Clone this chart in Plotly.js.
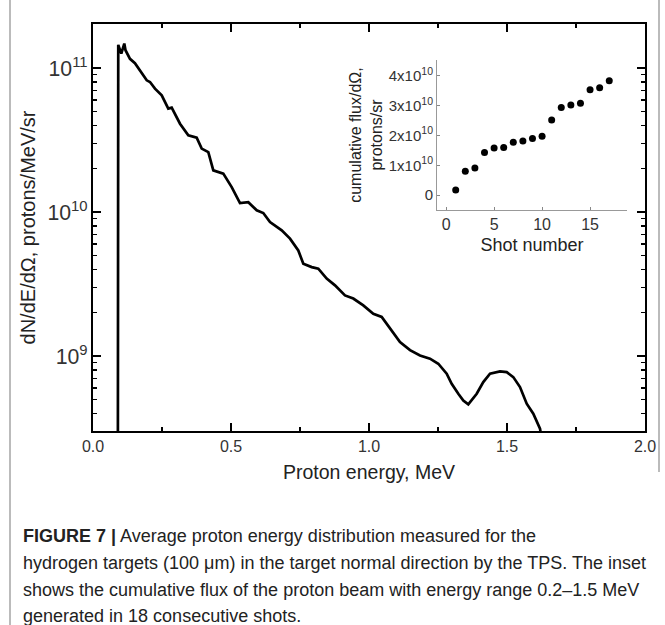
<!DOCTYPE html>
<html>
<head>
<meta charset="utf-8">
<script src="https://cdn.plot.ly/plotly-3.0.1.min.js"></script>
<style>
html,body{margin:0;padding:0;background:#fff;}
#chart{width:665px;height:625px;}
</style>
</head>
<body>
<div id="chart"></div>
<script>
// Main spectrum: proton energy (MeV) vs dN/dE/dOmega (protons/MeV/sr)
var energy = [0.0895, 0.0905, 0.0915, 0.1025, 0.1134, 0.1178, 0.134, 0.152, 0.170, 0.1946,
  0.2065, 0.2246, 0.249, 0.2728, 0.2851, 0.3152, 0.3453, 0.3757, 0.3938, 0.4178,
  0.4359, 0.454, 0.4721, 0.5025, 0.5326, 0.5627, 0.5931, 0.617, 0.6413, 0.6837,
  0.7138, 0.7438, 0.762, 0.7924, 0.8163, 0.8467, 0.8768, 0.913, 0.9431, 0.9793,
  1.0156, 1.046, 1.0822, 1.1123, 1.1486, 1.1848, 1.221, 1.2511, 1.2815, 1.2996,
  1.3236, 1.3417, 1.3598, 1.3902, 1.4141, 1.4384, 1.4746, 1.4989, 1.5228, 1.5471,
  1.5714, 1.5953, 1.6196, 1.63];
var flux = [1e7, 3.5e10, 1.45e11, 1.26e11, 1.48e11, 1.33e11, 1.16e11, 1.08e11, 9.64e10, 8.22e10,
  8.0e10, 7.2e10, 6.46e10, 5.23e10, 5.31e10, 4.11e10, 3.41e10, 3.29e10, 2.76e10, 2.61e10,
  1.95e10, 1.90e10, 1.85e10, 1.49e10, 1.155e10, 1.17e10, 1.03e10, 9.85e9, 8.53e9, 7.47e9,
  6.54e9, 5.42e9, 4.38e9, 4.15e9, 4.05e9, 3.45e9, 3.10e9, 2.64e9, 2.51e9, 2.25e9,
  1.97e9, 1.87e9, 1.51e9, 1.25e9, 1.10e9, 1.01e9, 9.6e8, 8.85e8, 7.55e8, 6.43e8,
  5.48e8, 4.92e8, 4.62e8, 5.48e8, 6.6e8, 7.55e8, 7.83e8, 7.74e8, 7.15e8, 6.1e8,
  4.67e8, 3.98e8, 3.13e8, 2.4e8];

// Inset: cumulative flux per shot
var shots = [1, 2, 3, 4, 5, 6, 7, 8, 9, 10, 11, 12, 13, 14, 15, 16, 17];
var cumFlux = [0.17e10, 0.80e10, 0.91e10, 1.43e10, 1.58e10, 1.60e10, 1.77e10, 1.81e10, 1.90e10, 1.97e10,
  2.52e10, 2.94e10, 3.02e10, 3.08e10, 3.53e10, 3.60e10, 3.83e10];

var insetTickVals = [0, 1e10, 2e10, 3e10, 4e10];
var insetTickText = ['0', '1x10<sup>10</sup>', '2x10<sup>10</sup>', '3x10<sup>10</sup>', '4x10<sup>10</sup>'];

var captionLines = [
  '<b>FIGURE 7 |</b> Average proton energy distribution measured for the',
  'hydrogen targets (100 μm) in the target normal direction by the TPS. The inset',
  'shows the cumulative flux of the proton beam with energy range 0.2–1.5 MeV',
  'generated in 18 consecutive shots.'
];

var FONT = 'Liberation Sans, Arial, sans-serif';
var CAPFONT = 'Liberation Sans, Arial, sans-serif';

var traces = [
  {x: energy, y: flux, type: 'scatter', mode: 'lines',
   line: {color: '#000', width: 2.7}, xaxis: 'x', yaxis: 'y', hoverinfo: 'skip'},
  {x: shots, y: cumFlux, type: 'scatter', mode: 'markers',
   marker: {color: '#000', size: 7}, xaxis: 'x2', yaxis: 'y2', hoverinfo: 'skip'}
];

// pixel geometry helpers (plot area 93..645 x 24..431)
function px(x){ return (x - 93) / 552; }
function py(y){ return (431 - y) / 407; }

var annotations = captionLines.map(function(t, i){
  var ys = [536, 563, 590, 616];
  return {text: t, xref: 'paper', yref: 'paper', x: px(21), y: py(ys[i]),
    xanchor: 'left', yanchor: 'middle', showarrow: false,
    font: {family: CAPFONT, size: 18, color: '#222'}};
});

var layout = {
  width: 665, height: 625,
  margin: {l: 93, r: 20, t: 24, b: 194},
  paper_bgcolor: '#fff', plot_bgcolor: '#fff',
  showlegend: false,
  font: {family: FONT, color: '#333'},
  xaxis: {
    range: [0, 2], dtick: 0.5, tick0: 0, tickformat: '.1f',
    ticks: 'inside', ticklen: 8, tickwidth: 1.5, tickcolor: '#000',
    minor: {dtick: 0.25, ticks: 'inside', ticklen: 4, tickcolor: '#000', tickwidth: 1.5, showgrid: false},
    showline: true, linecolor: '#000', linewidth: 2, mirror: 'ticks',
    showgrid: false, zeroline: false,
    tickfont: {family: FONT, size: 16, color: '#333'},
    title: {text: 'Proton energy, MeV', font: {family: FONT, size: 19.5, color: '#222'}, standoff: 11}
  },
  yaxis: {
    type: 'log', range: [8.48, 11.306], dtick: 1, exponentformat: 'power',
    ticks: 'inside', ticklen: 8, tickwidth: 1.5, tickcolor: '#000',
    minor: {dtick: 'D1', ticks: 'inside', ticklen: 4, tickcolor: '#000', tickwidth: 1.2, showgrid: false},
    showline: true, linecolor: '#000', linewidth: 2, mirror: 'ticks',
    showgrid: false, zeroline: false,
    tickfont: {family: FONT, size: 17, color: '#333'},
    title: {text: 'dN/dE/dΩ, protons/MeV/sr', font: {family: FONT, size: 20, color: '#222'}, standoff: 6}
  },
  xaxis2: {
    domain: [px(437), px(627)], anchor: 'y2',
    range: [-0.95, 18.85], tickvals: [0, 5, 10, 15],
    ticks: 'inside', ticklen: 3, tickcolor: '#888',
    showline: true, linecolor: '#999', linewidth: 1, mirror: false,
    showgrid: false, zeroline: false,
    tickfont: {family: FONT, size: 16, color: '#333'},
    title: {text: 'Shot number', font: {family: FONT, size: 18, color: '#222'}, standoff: 6}
  },
  yaxis2: {
    domain: [py(210), py(60)], anchor: 'x2',
    range: [-0.5e10, 4.53e10], tickvals: insetTickVals, ticktext: insetTickText,
    ticks: 'inside', ticklen: 3, tickcolor: '#888',
    showline: true, linecolor: '#999', linewidth: 1, mirror: false,
    showgrid: false, zeroline: false,
    tickfont: {family: FONT, size: 15, color: '#333'},
    title: {text: 'cumulative flux/dΩ,<br>protons/sr', font: {family: FONT, size: 16, color: '#222'}, standoff: 2}
  },
  shapes: [
    {type: 'line', xref: 'paper', yref: 'paper', x0: px(10), x1: px(10), y0: py(0), y1: py(625),
     line: {color: '#bbb', width: 2}},
    {type: 'line', xref: 'paper', yref: 'paper', x0: px(659), x1: px(659), y0: py(0), y1: py(472),
     line: {color: '#bbb', width: 2}}
  ],
  annotations: annotations
};

Plotly.newPlot('chart', traces, layout, {staticPlot: true, displayModeBar: false});
</script>
</body>
</html>
